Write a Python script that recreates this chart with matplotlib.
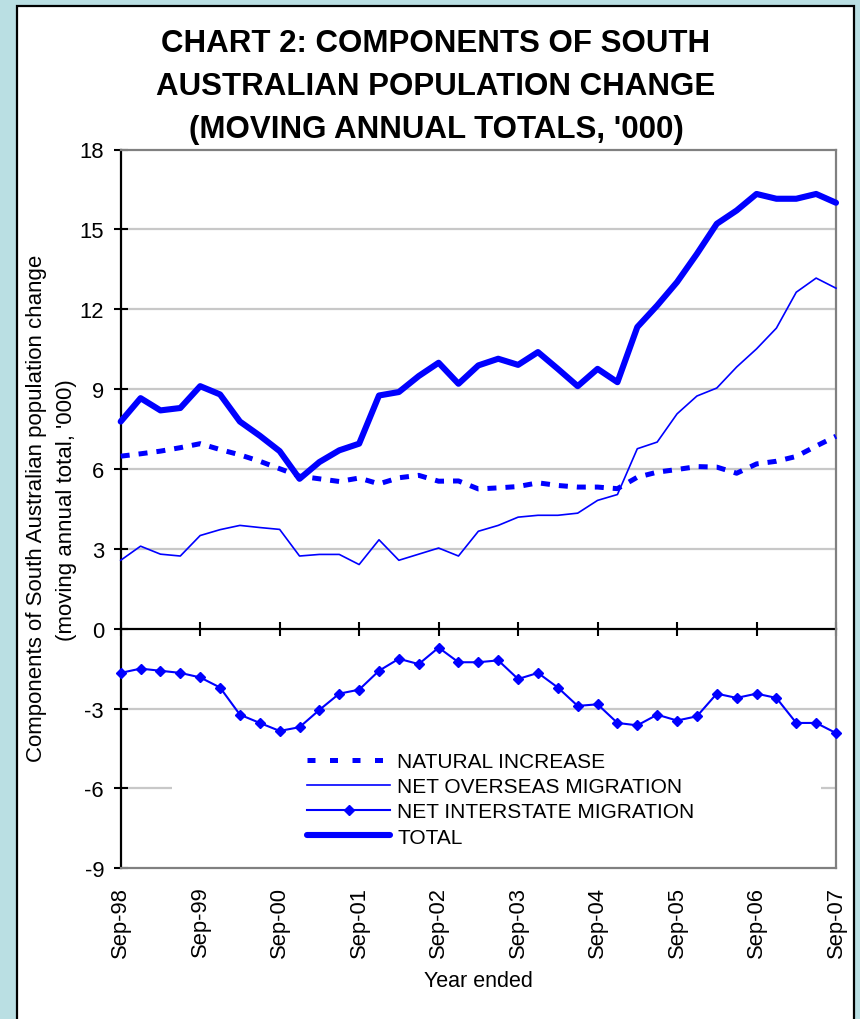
import matplotlib
matplotlib.use("Agg")
import matplotlib.pyplot as plt
from matplotlib.patches import Rectangle
from matplotlib.lines import Line2D

plt.rcParams['font.family'] = ['Liberation Sans', 'DejaVu Sans']

# ---- data (quarterly, Sep-98 .. Sep-07), '000 ----
year_labels = ["Sep-98", "Sep-99", "Sep-00", "Sep-01", "Sep-02",
               "Sep-03", "Sep-04", "Sep-05", "Sep-06", "Sep-07"]

natural_increase = [6.48, 6.57, 6.67, 6.80, 6.95, 6.73, 6.53, 6.29, 6.01, 5.73,
                    5.63, 5.53, 5.66, 5.44, 5.67, 5.76, 5.54, 5.55, 5.25, 5.29,
                    5.34, 5.48, 5.38, 5.32, 5.32, 5.26, 5.69, 5.88, 5.98, 6.09,
                    6.07, 5.84, 6.19, 6.29, 6.47, 6.86, 7.23]

net_overseas = [2.57, 3.10, 2.80, 2.73, 3.50, 3.72, 3.88, 3.80, 3.73, 2.73,
                2.79, 2.79, 2.41, 3.34, 2.57, 2.80, 3.03, 2.73, 3.66, 3.88,
                4.19, 4.26, 4.26, 4.34, 4.82, 5.04, 6.76, 7.01, 8.07, 8.74,
                9.04, 9.83, 10.51, 11.29, 12.64, 13.17, 12.79]

net_interstate = [-1.66, -1.50, -1.58, -1.66, -1.83, -2.21, -3.23, -3.54, -3.84, -3.70,
                  -3.05, -2.44, -2.29, -1.58, -1.13, -1.33, -0.71, -1.26, -1.26, -1.19,
                  -1.89, -1.66, -2.21, -2.90, -2.84, -3.54, -3.63, -3.23, -3.45, -3.29,
                  -2.44, -2.60, -2.44, -2.60, -3.54, -3.54, -3.92]

total = [7.78, 8.66, 8.20, 8.29, 9.11, 8.80, 7.78, 7.25, 6.67, 5.63,
         6.26, 6.70, 6.95, 8.76, 8.89, 9.49, 9.99, 9.20, 9.89, 10.14,
         9.91, 10.39, 9.76, 9.11, 9.76, 9.26, 11.33, 12.14, 13.02, 14.08,
         15.21, 15.71, 16.33, 16.15, 16.15, 16.33, 16.00]

series_names = ["NATURAL INCREASE", "NET OVERSEAS MIGRATION",
                "NET INTERSTATE MIGRATION", "TOTAL"]

# ---- figure ----
W, H = 860, 1020
fig = plt.figure(figsize=(W / 100, H / 100), dpi=100, facecolor='#badfe3')
panel = Rectangle((17 / W, -0.02), (854 - 17) / W, 1 - 7 / H + 0.02,
                  transform=fig.transFigure, facecolor='white',
                  edgecolor='black', linewidth=1.6, zorder=-10)
fig.patches.append(panel)

ax = fig.add_axes([120.7 / W, 1 - 869.3 / H, (836 - 120.7) / W, (869.3 - 150.5) / H])
ax.set_facecolor('white')

x = list(range(len(total)))
blue = '#0000ff'

ax.plot(x, natural_increase, color=blue, lw=3.6, dashes=(1.8, 1.8),
        clip_on=False, zorder=3)
ax.plot(x, net_overseas, color=blue, lw=1.2, clip_on=False, zorder=3)
ax.plot(x, net_interstate, color=blue, lw=1.5, marker='D', markersize=4.6,
        clip_on=False, zorder=3)
ax.plot(x, total, color=blue, lw=4.4, solid_capstyle='round',
        clip_on=False, zorder=4)

ax.set_xlim(0, len(total) - 1)
ax.set_ylim(-9, 18)

yticks = list(range(-9, 19, 3))
ax.set_yticks(yticks)
ax.set_yticklabels([str(t) for t in yticks])
ax.tick_params(axis='y', direction='inout', length=10, width=1.5, pad=7,
               labelsize=15.8, colors='black')

year_pos = list(range(0, len(total), 4))
ax.set_xticks(year_pos)
ax.set_xticklabels(year_labels)
ax.tick_params(axis='x', length=0, pad=12.5, labelsize=15.8, labelrotation=90)

# gridlines (light grey) only for interior ticks
for t in yticks:
    if t not in (-9, 0, 18):
        ax.axhline(t, color='#c8c8c8', lw=1.6, zorder=1.5)

for s in ['top', 'right', 'bottom']:
    ax.spines[s].set_color('#808080')
    ax.spines[s].set_linewidth(1.6)
ax.spines['left'].set_color('black')
ax.spines['left'].set_linewidth(1.6)

# zero axis with year ticks
zero_frac = (0 - (-9)) / (18 - (-9))
sec = ax.secondary_xaxis(zero_frac)
sec.set_xticks(year_pos)
sec.set_xticklabels([])
sec.tick_params(direction='inout', length=10, width=1.5, labelbottom=False,
                labeltop=False)
for s in sec.spines.values():
    s.set_color('black')
    s.set_linewidth(1.6)

# white legend background hiding grid line
ax.add_patch(Rectangle((0.0717, 0.02), 0.908, 0.17, transform=ax.transAxes,
                       facecolor='white', edgecolor='none', zorder=1.8))

handles = [
    Line2D([], [], color=blue, lw=3.6, dashes=(1.6, 2.9)),
    Line2D([], [], color=blue, lw=1.2),
    Line2D([], [], color=blue, lw=1.5, marker='D', markersize=4.6),
    Line2D([], [], color=blue, lw=4.4, solid_capstyle='round'),
]
leg = fig.legend(handles, series_names, loc='upper left',
                 bbox_to_anchor=(307 / W, 1 - 753 / H),
                 bbox_transform=fig.transFigure, frameon=False,
                 fontsize=15, handlelength=4.0, handletextpad=0.33,
                 labelspacing=0.30, borderpad=0, borderaxespad=0)

# titles and labels
title_lines = ["CHART 2: COMPONENTS OF SOUTH",
               "AUSTRALIAN POPULATION CHANGE",
               "(MOVING ANNUAL TOTALS, '000)"]
for line, base in zip(title_lines, [52, 95, 138]):
    fig.text(436 / W, 1 - base / H, line, ha='center', va='baseline',
             fontsize=22.5, fontweight='bold')

fig.text(37 / W, 1 - 508 / H, "Components of South Australian population change",
         rotation=90, ha='center', va='center', fontsize=16)
fig.text(67 / W, 1 - 510 / H, "(moving annual total, '000)",
         rotation=90, ha='center', va='center', fontsize=16)
fig.text(478 / W, 1 - 982 / H, "Year ended", ha='center', va='center',
         fontsize=15.5)

fig.savefig("out.png", dpi=100, facecolor=fig.get_facecolor())
